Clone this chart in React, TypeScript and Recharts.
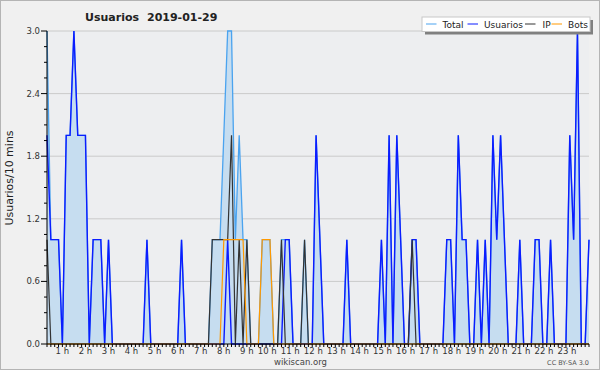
import React from "react";
import { ComposedChart, Area, Line, XAxis, YAxis, CartesianGrid } from "recharts";

// one value every 10 minutes, from 0 h
const usuarios = [
  2, 1, 1, 1, 0, 2, 2, 3, 2, 2, 2, 0,
  1, 1, 1, 0, 1, 0, 0, 0, 0, 0, 0, 0,
  0, 0, 1, 0, 0, 0, 0, 0, 0, 0, 0, 1,
  0, 0, 0, 0, 0, 0, 0, 0, 0, 0, 0, 1,
  0, 0, 0, 0, 0, 0, 0, 0, 0, 0, 0, 0,
  0, 0, 1, 1, 0, 0, 0, 0, 0, 0, 2, 1,
  0, 0, 0, 0, 0, 0, 1, 0, 0, 0, 0, 0,
  0, 0, 0, 1, 0, 2, 0, 2, 1, 0, 0, 1,
  1, 0, 0, 0, 0, 0, 0, 0, 1, 1, 0, 2,
  1, 1, 0, 0, 1, 0, 1, 0, 2, 1, 2, 1,
  0, 0, 0, 1, 0, 0, 0, 1, 1, 0, 0, 1,
  0, 0, 0, 0, 2, 1, 3, 0, 0, 1,
];

const ip = [
  1, 0, 0, 0, 0, 0, 0, 0, 0, 0, 0, 0,
  0, 0, 0, 0, 0, 0, 0, 0, 0, 0, 0, 0,
  0, 0, 0, 0, 0, 0, 0, 0, 0, 0, 0, 0,
  0, 0, 0, 0, 0, 0, 0, 1, 1, 1, 1, 1,
  2, 0, 1, 0, 1, 0, 0, 0, 0, 0, 0, 0,
  0, 1, 0, 0, 0, 0, 0, 1, 0, 0, 0, 0,
  0, 0, 0, 0, 0, 0, 0, 0, 0, 0, 0, 0,
  0, 0, 0, 0, 0, 0, 0, 0, 0, 0, 0, 1,
  0, 0, 0, 0, 0, 0, 0, 0, 0, 0, 0, 0,
  0, 0, 0, 0, 0, 0, 0, 0, 0, 0, 0, 0,
  0, 0, 0, 0, 0, 0, 0, 0, 0, 0, 0, 0,
  0, 0, 0, 0, 0, 0, 0, 0, 0, 0,
];

const bots = [
  0, 0, 0, 0, 0, 0, 0, 0, 0, 0, 0, 0,
  0, 0, 0, 0, 0, 0, 0, 0, 0, 0, 0, 0,
  0, 0, 0, 0, 0, 0, 0, 0, 0, 0, 0, 0,
  0, 0, 0, 0, 0, 0, 0, 0, 0, 0, 1, 1,
  1, 1, 1, 1, 0, 0, 0, 0, 1, 1, 1, 0,
  0, 0, 0, 0, 0, 0, 0, 0, 0, 0, 0, 0,
  0, 0, 0, 0, 0, 0, 0, 0, 0, 0, 0, 0,
  0, 0, 0, 0, 0, 0, 0, 0, 0, 0, 0, 0,
  0, 0, 0, 0, 0, 0, 0, 0, 0, 0, 0, 0,
  0, 0, 0, 0, 0, 0, 0, 0, 0, 0, 0, 0,
  0, 0, 0, 0, 0, 0, 0, 0, 0, 0, 0, 0,
  0, 0, 0, 0, 0, 0, 0, 0, 0, 0,
];

const total = [
  3, 1, 1, 1, 0, 2, 2, 3, 2, 2, 2, 0,
  1, 1, 1, 0, 1, 0, 0, 0, 0, 0, 0, 0,
  0, 0, 1, 0, 0, 0, 0, 0, 0, 0, 0, 1,
  0, 0, 0, 0, 0, 0, 0, 1, 1, 1, 2, 3,
  3, 1, 2, 1, 1, 0, 0, 0, 1, 1, 1, 0,
  0, 1, 1, 1, 0, 0, 0, 1, 0, 0, 2, 1,
  0, 0, 0, 0, 0, 0, 1, 0, 0, 0, 0, 0,
  0, 0, 0, 1, 0, 2, 0, 2, 1, 0, 0, 1,
  1, 0, 0, 0, 0, 0, 0, 0, 1, 1, 0, 2,
  1, 1, 0, 0, 1, 0, 1, 0, 2, 1, 2, 1,
  0, 0, 0, 1, 0, 0, 0, 1, 1, 0, 0, 1,
  0, 0, 0, 0, 2, 1, 3, 0, 0, 1,
];

const hourLabels = [
  "1 h", "2 h", "3 h", "4 h", "5 h", "6 h", "7 h", "8 h", "9 h", "10 h", "11 h", "12 h",
  "13 h", "14 h", "15 h", "16 h", "17 h", "18 h", "19 h", "20 h", "21 h", "22 h", "23 h",
];
const yMajor = [0, 0.6, 1.2, 1.8, 2.4, 3.0];
const yAll = [0, 0.15, 0.3, 0.45, 0.6, 0.75, 0.9, 1.05, 1.2, 1.35, 1.5, 1.65, 1.8, 1.95, 2.1, 2.25, 2.4, 2.55, 2.7, 2.85, 3.0];

const data = total.map((t, i) => ({ i, total: t, usuarios: usuarios[i], ip: ip[i], bots: bots[i] }));

const FONT = "'DejaVu Sans', sans-serif";

const XTick = ({ x, y, payload }: any) => {
  const i = payload.value;
  const label = i > 0 && i % 6 === 0 ? hourLabels[i / 6 - 1] : null;
  return (
    <g>
      <line x1={x} x2={x} y1={y} y2={y + 3} stroke="#000" />
      {label && (
        <text x={x - 1} y={y + 10} textAnchor="end" fontSize={8.5} fill="#333" fontFamily={FONT}>
          {label}
        </text>
      )}
    </g>
  );
};

const YTick = ({ x, y, payload }: any) => {
  const v = payload.value;
  const major = yMajor.some(m => Math.abs(m - v) < 1e-6);
  return (
    <g>
      <line x1={major ? x - 6 : x - 3} x2={x} y1={y} y2={y} stroke="#000" />
      {major && (
        <text x={x - 7} y={y + 3} textAnchor="end" fontSize={8.5} fill="#333" fontFamily={FONT}>
          {v.toFixed(1)}
        </text>
      )}
    </g>
  );
};

const legendItems = [
  { name: "Total", color: "#4aa3ef", lx: 426, tx: 442.5 },
  { name: "Usuarios", color: "#0b1cff", lx: 467.5, tx: 484 },
  { name: "IP", color: "#333333", lx: 525, tx: 542.5 },
  { name: "Bots", color: "#ff9900", lx: 551.5, tx: 568 },
];

export default function App() {
  return (
    <div style={{ position: "absolute", left: 0, top: 0, width: 600, height: 370, background: "#f0f0f0", boxSizing: "border-box", border: "1px solid #b4b4b4" }}>
      <div style={{ position: "absolute", left: -1, top: -1 }}>
        <ComposedChart width={600} height={370} data={data} margin={{ top: 31, right: 11, left: 0, bottom: 0 }}>
          <CartesianGrid vertical={false} horizontalValues={[0.6, 1.2, 1.8, 2.4, 3.0]} stroke="#cacaca" fill="#edeef0" />
          <XAxis dataKey="i" type="category" interval={0} height={26} tickSize={0} tickMargin={0}
            tickLine={false} axisLine={{ stroke: "#000" }} tick={<XTick />} />
          <YAxis domain={[0, 3]} ticks={yAll} interval={0} width={47} tickSize={0} tickMargin={0}
            tickLine={false} axisLine={{ stroke: "#000" }} tick={<YTick />} />
          <Area type="linear" dataKey="total" stroke="#4aa3ef" strokeWidth={1.3} fill="#c6ddf0" fillOpacity={1}
            dot={false} activeDot={false} isAnimationActive={false} />
          <Line type="linear" dataKey="usuarios" stroke="#0b1cff" strokeWidth={1.4} dot={false} activeDot={false} isAnimationActive={false} />
          <Line type="linear" dataKey="ip" stroke="#333333" strokeWidth={1.2} dot={false} activeDot={false} isAnimationActive={false} />
          <Line type="linear" dataKey="bots" stroke="#ff9900" strokeWidth={1.2} dot={false} activeDot={false} isAnimationActive={false} />
        </ComposedChart>
      </div>
      <svg width={600} height={370} style={{ position: "absolute", left: -1, top: -1, pointerEvents: "none" }}>
        <text x={85} y={21} fontSize={11} fontWeight="bold" fill="#222" fontFamily={FONT}>Usuarios</text>
        <text x={147} y={21} fontSize={11} fontWeight="bold" fill="#222" fontFamily={FONT}>2019-01-29</text>
        <text transform="translate(13,178) rotate(-90)" textAnchor="middle" fontSize={11} fill="#222" fontFamily={FONT}>
          Usuarios/10 mins
        </text>
        <rect x={425} y={20} width={168} height={14.5} fill="#808080" />
        <rect x={422} y={17} width={168} height={14.5} fill="#ffffff" stroke="#c8c8c8" />
        {legendItems.map(it => (
          <g key={it.name}>
            <line x1={it.lx} x2={it.lx + 10.5} y1={24} y2={24} stroke={it.color} strokeWidth={1} />
            <text x={it.tx} y={28} fontSize={9} fill="#222" fontFamily={FONT}>{it.name}</text>
          </g>
        ))}
        <text x={300.5} y={365} textAnchor="middle" fontSize={8.5} fill="#444" fontFamily={FONT}>wikiscan.org</text>
        <text x={589} y={365} textAnchor="end" fontSize={6.5} fill="#555" fontFamily={FONT}>CC BY-SA 3.0</text>
      </svg>
    </div>
  );
}
